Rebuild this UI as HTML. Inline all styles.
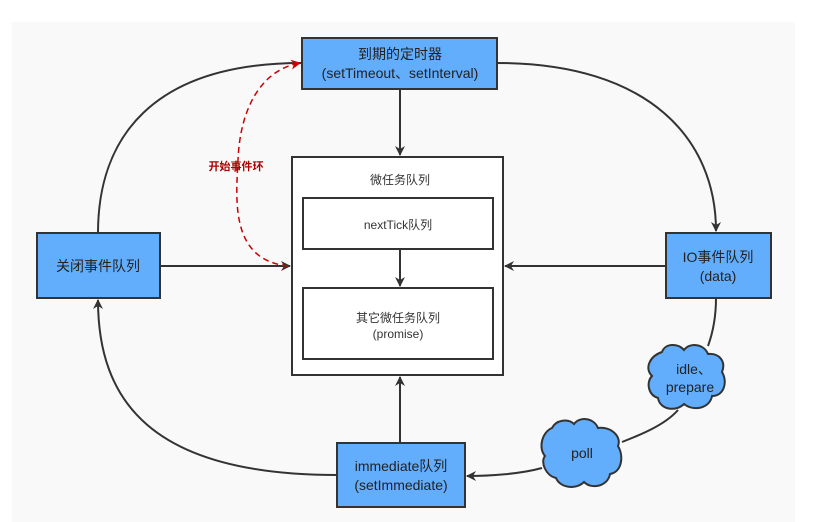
<!DOCTYPE html>
<html><head><meta charset="utf-8"><style>
body{margin:0;background:#fff;}
svg{display:block;font-family:"Liberation Sans","Noto Sans CJK SC",sans-serif;}
</style></head><body>
<svg width="819" height="522" viewBox="0 0 819 522">
<defs>
<marker id="a" markerWidth="10" markerHeight="10" refX="9" refY="5" orient="auto" markerUnits="userSpaceOnUse"><path d="M0,0 L10,5 L0,10 L3,5z" fill="#333"/></marker>
<marker id="r" markerWidth="10" markerHeight="10" refX="9" refY="5" orient="auto" markerUnits="userSpaceOnUse"><path d="M0,0 L10,5 L0,10 L3,5z" fill="#c00"/></marker>
</defs>
<rect x="12" y="22" width="783" height="500" fill="#f9f9f9"/>
<g fill="none" stroke="#333" stroke-width="2">
<path d="M302,63 C150,63 98,140 98,233"/>
<path d="M337,475 C150,475 98,400 98,300" marker-end="url(#a)"/>
<path d="M497,63 C650,63 716,140 716,231" marker-end="url(#a)"/>
<path d="M716,298 C716,320 712,335 708,346"/>
<path d="M678,410 C665,425 640,435 622,442"/>
<path d="M542,468 C520,474 490,476 467,476" marker-end="url(#a)"/>
<path d="M400,89 V155" marker-end="url(#a)"/>
<path d="M160,266 H290" marker-end="url(#a)"/>
<path d="M666,266 H505" marker-end="url(#a)"/>
<path d="M400,443 V377" marker-end="url(#a)"/>
</g>
<path d="M288,266 C230,260 236,200 238,160 C240,110 260,70 300,63" fill="none" stroke="#c00" stroke-width="1.5" stroke-dasharray="6,4" marker-end="url(#r)"/>
<text x="236" y="170" font-size="11" font-weight="bold" fill="#a00" text-anchor="middle">开始事件环</text>
<g stroke="#333" stroke-width="2">
<rect x="302" y="38" width="195" height="51" fill="#63adfd"/>
<rect x="37" y="233" width="123" height="65" fill="#63adfd"/>
<rect x="666" y="233" width="105" height="65" fill="#63adfd"/>
<rect x="337" y="443" width="128" height="64" fill="#63adfd"/>
<rect x="292" y="157" width="211" height="218" fill="#fff"/>
<rect x="303" y="198" width="190" height="51" fill="#fff"/>
<rect x="303" y="288" width="190" height="71" fill="#fff"/>
<path d="M662,352 C665,343 678,343 684,350 C690,342 704,344 708,354 C720,353 726,362 722,372 C728,382 724,396 712,396 C710,408 694,412 684,404 C676,412 660,410 658,398 C648,395 646,382 652,376 C644,368 650,356 662,352z" fill="#63adfd"/>
<path d="M552,428 C556,420 568,418 574,424 C580,416 594,418 598,428 C610,426 622,436 618,446 C624,456 622,472 610,474 C608,486 592,490 584,482 C576,490 560,488 556,478 C546,476 540,462 545,456 C538,448 542,432 552,428z" fill="#63adfd"/>
</g>
<path d="M400,249 V286" fill="none" stroke="#333" stroke-width="2" marker-end="url(#a)"/>
<g font-size="14" fill="#222" text-anchor="middle">
<text x="400" y="59">到期的定时器</text>
<text x="400" y="78">(setTimeout、setInterval)</text>
<text x="98" y="271">关闭事件队列</text>
<text x="718" y="262">IO事件队列</text>
<text x="718" y="281">(data)</text>
<text x="401" y="471">immediate队列</text>
<text x="401" y="490">(setImmediate)</text>
<text x="694" y="374">idle、</text>
<text x="690" y="392">prepare</text>
<text x="582" y="458">poll</text>
</g>
<g font-size="12" fill="#333" text-anchor="middle">
<text x="400" y="184">微任务队列</text>
<text x="398" y="229">nextTick队列</text>
<text x="398" y="322">其它微任务队列</text>
<text x="398" y="338">(promise)</text>
</g>
</svg>
</body></html>
